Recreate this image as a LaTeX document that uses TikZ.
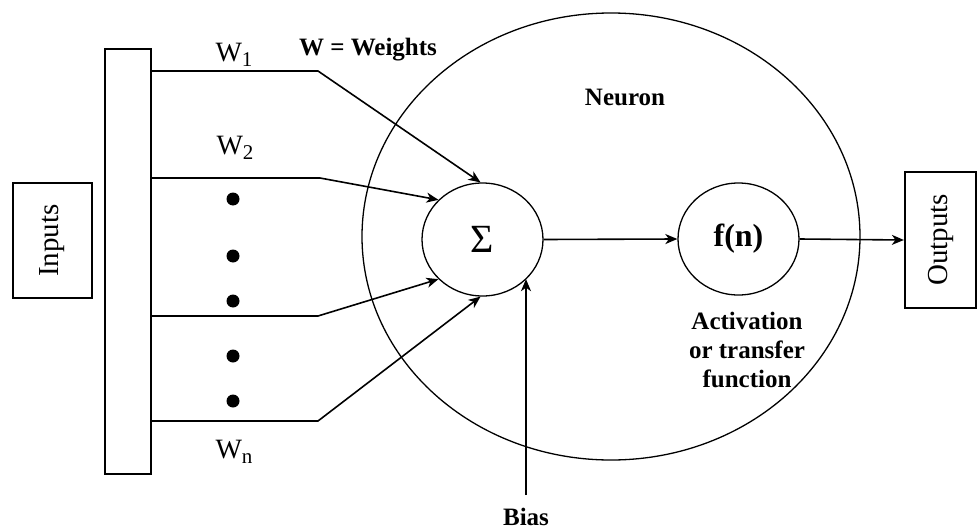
\documentclass[tikz,border=0pt]{standalone}
\usepackage{fontspec}
\setmainfont{Liberation Serif}
\usetikzlibrary{arrows.meta,shapes.geometric}
\newcommand{\wsub}[1]
        {W\raisebox{-0.35ex}{\fontsize{21}{21}\selectfont #1}}

\begin{document}
\begin{tikzpicture}[x=1pt,y=-1pt,
  lbl/.style={font=\fontsize{28}{30}\selectfont},
  blbl/.style={font=\fontsize{25}{29}\selectfont\bfseries},
  arr/.style={-{Stealth[length=12pt,width=10pt,inset=3.5pt]},line width=1.6pt},
  unit/.style={draw,ellipse,line width=1.3pt,inner sep=0pt},
  iobox/.style={draw,rotate=90,line width=2.2pt,inner sep=0pt,font=\fontsize{29}{30}\selectfont}]
\useasboundingbox (0,0) rectangle (978,530);

\node[iobox,minimum width=115,minimum height=79] (inputs) at (52.5,240.5) {Inputs};
\node[draw,line width=1.5pt,minimum width=46,minimum height=425,inner sep=0pt] (bar) at (128,261.5) {};
\node[iobox,minimum width=136,minimum height=71] (outputs) at (940.5,240) {Outputs};

\node[unit,minimum width=498,minimum height=447] (neuron) at (611,236.5) {};
\node[blbl] at (625,97) {Neuron};
\node[unit,minimum width=121,minimum height=113,font=\fontsize{40}{40}\selectfont] (sum) at (482.5,239.5) {Σ};
\node[unit,minimum width=121,minimum height=112,font=\fontsize{32}{32}\selectfont\bfseries] (fn) at (738.5,239) {f(n)};
\node[blbl,align=center] (act) at (747,350) {Activation\\or transfer\\function};

\node[lbl] (w1) at (234,55) {\wsub{1}};
\node[lbl] (w2) at (235,148) {\wsub{2}};
\node[lbl] (wn) at (234,452) {\wsub{n}};
\node[blbl] (wdef) at (368,50) {W = Weights};

\coordinate (k1) at (318,71);
\coordinate (k2) at (320,178);
\coordinate (k3) at (318,316);
\coordinate (k4) at (318,421);
\draw[arr] (bar.east |- k1) -- (k1) -- (sum.92);
\draw[arr] (bar.east |- k2) -- (k2) -- (sum.138);
\draw[arr] (bar.east |- k3) -- (k3) -- (sum.222);
\draw[arr] (bar.east |- k4) -- (k4) -- (sum.268);

\foreach \y in {199,256,301,356,401}
  \fill (233,\y) circle (6.5);

\draw[arr] (sum.east) -- (fn.west);
\draw[arr] (fn.east) -- (outputs.north);

\node[blbl,anchor=base] (bias) at (526,525) {Bias};
\coordinate (btail) at (526,495);
\draw[arr] (btail) -- (btail |- sum.-42);
\end{tikzpicture}
\end{document}
